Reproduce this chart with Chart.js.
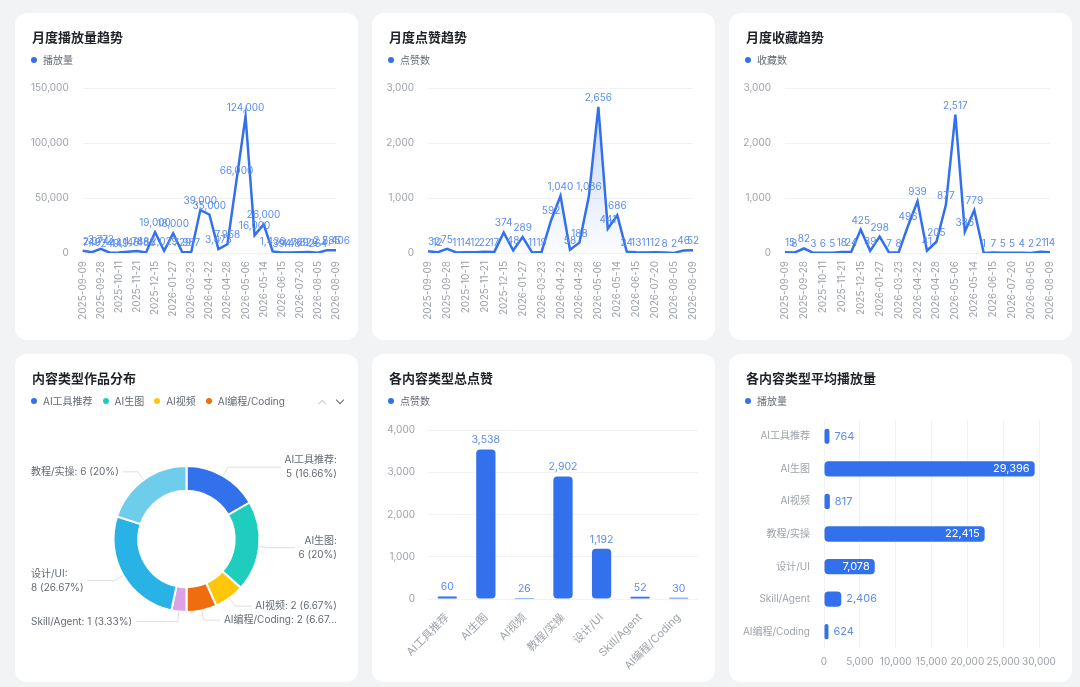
<!DOCTYPE html>
<html>
<head>
<meta charset="utf-8">
<script src="https://cdn.jsdelivr.net/npm/chart.js@4.4.1/dist/chart.umd.min.js"></script>
<style>
  html, body { margin: 0; padding: 0; width: 1080px; height: 687px; overflow: hidden; background: #f2f3f5; }
  body { font-family: Inter, "Noto Sans CJK SC", sans-serif; }
  .card { position: absolute; background: #fff; border-radius: 12px; width: 343px; }
  .card canvas { position: absolute; left: 0; top: 0; }
  .title { position: absolute; left: 17px; top: 16px; font-size: 13px; line-height: 16px; font-weight: 600; color: #1f2329; white-space: nowrap; }
  .legend { position: absolute; left: 16px; top: 41px; font-size: 10px; line-height: 12px; color: #646a73; white-space: nowrap; display: flex; }
  .lg-item { display: inline-flex; align-items: center; margin-right: 10px; }
  .dot { width: 6px; height: 6px; border-radius: 50%; margin-right: 6px; display: inline-block; }
  .chev { position: absolute; width: 5px; height: 5px; transform: rotate(45deg); }
  .chev.up { left: 304px; top: 47px; border-left: 1.2px solid #c9cdd4; border-top: 1.2px solid #c9cdd4; }
  .chev.down { left: 322px; top: 43px; border-right: 1.2px solid #646a73; border-bottom: 1.2px solid #646a73; }
</style>
</head>
<body>

<div class="card" style="left:15px;top:13px;height:327px">
  <canvas id="playTrend" width="343" height="327"></canvas>
  <div class="title">月度播放量趋势</div>
  <div class="legend"><span class="lg-item"><span class="dot" style="background:#3370eb"></span>播放量</span></div>
</div>
<div class="card" style="left:372px;top:13px;height:327px">
  <canvas id="likeTrend" width="343" height="327"></canvas>
  <div class="title">月度点赞趋势</div>
  <div class="legend"><span class="lg-item"><span class="dot" style="background:#3370eb"></span>点赞数</span></div>
</div>
<div class="card" style="left:729px;top:13px;height:327px">
  <canvas id="favTrend" width="343" height="327"></canvas>
  <div class="title">月度收藏趋势</div>
  <div class="legend"><span class="lg-item"><span class="dot" style="background:#3370eb"></span>收藏数</span></div>
</div>
<div class="card" style="left:15px;top:354px;height:328px">
  <canvas id="typeShare" width="343" height="328"></canvas>
  <div class="title">内容类型作品分布</div>
  <div class="legend" id="shareLegend"></div>
  <div class="chev up"></div><div class="chev down"></div>
</div>
<div class="card" style="left:372px;top:354px;height:328px">
  <canvas id="typeLikes" width="343" height="328"></canvas>
  <div class="title">各内容类型总点赞</div>
  <div class="legend"><span class="lg-item"><span class="dot" style="background:#3370eb"></span>点赞数</span></div>
</div>
<div class="card" style="left:729px;top:354px;height:328px">
  <canvas id="typePlays" width="343" height="328"></canvas>
  <div class="title">各内容类型平均播放量</div>
  <div class="legend"><span class="lg-item"><span class="dot" style="background:#3370eb"></span>播放量</span></div>
</div>

<script>
// ---- data ----
const trendDates = ['2025-09-09','2025-09-18','2025-09-28','2025-10-05','2025-10-11','2025-11-02','2025-11-21',
  '2025-12-03','2025-12-15','2026-01-08','2026-01-27','2026-02-20','2026-03-23','2026-04-10','2026-04-22',
  '2026-04-25','2026-04-28','2026-05-02','2026-05-06','2026-05-10','2026-05-14','2026-06-01','2026-06-15',
  '2026-07-02','2026-07-20','2026-07-28','2026-08-05','2026-08-07','2026-08-09'];
const monthlyPlays = [2074, 749, 3773, 249, 449, 1148, 1788, 488, 19000, 2029, 18000, 729, 987, 39000, 35000,
  3475, 7958, 66000, 124000, 16000, 26000, 1436, 394, 448, 769, 826, 264, 2585, 2406];
const monthlyLikes = [32, 12, 75, 11, 14, 12, 22, 17, 374, 48, 289, 11, 19, 592, 1040,
  58, 188, 1036, 2656, 441, 686, 24, 13, 11, 12, 8, 2, 46, 52];
const monthlyFavs = [15, 8, 82, 3, 6, 5, 18, 24, 425, 39, 298, 7, 8, 496, 939,
  41, 205, 877, 2517, 386, 779, 1, 7, 5, 5, 4, 2, 21, 14];

const shareNames = ['AI工具推荐', 'AI生图', 'AI视频', 'AI编程/Coding', 'Skill/Agent', '设计/UI', '教程/实操'];
const shareCounts = [5, 6, 2, 2, 1, 8, 6];
const sharePct = ['16.66', '20', '6.67', '6.67', '3.33', '26.67', '20'];
const shareColors = ['#3370eb', '#1fcdbf', '#ffc60a', '#ef6c0f', '#dba2e6', '#28b2e6', '#6fcdec'];

const typeNames = ['AI工具推荐', 'AI生图', 'AI视频', '教程/实操', '设计/UI', 'Skill/Agent', 'AI编程/Coding'];
const typeLikes = [60, 3538, 26, 2902, 1192, 52, 30];
const typeAvgPlays = [764, 29396, 817, 22415, 7078, 2406, 624];

// ---- common ----
const FONT = "Inter, 'Noto Sans CJK SC', sans-serif";
const BLUE = '#3370eb';
const LABEL_BLUE = '#5a8cf0';
const AXIS = '#9ea3ab';
const GRID = '#f1f2f4';
Chart.defaults.font.family = FONT;
Chart.defaults.font.size = 10;
Chart.defaults.color = AXIS;
Chart.defaults.animation = false;

const fmt = v => v.toLocaleString('en-US');

// value labels drawn on top of points / bars
const valueLabels = {
  id: 'valueLabels',
  afterDatasetsDraw(chart, args, opts) {
    if (!opts.mode) return;
    const { ctx, chartArea } = chart;
    const meta = chart.getDatasetMeta(0);
    const values = chart.data.datasets[0].data;
    ctx.save();
    ctx.font = (opts.size || 10) + 'px ' + FONT;
    meta.data.forEach((el, i) => {
      const txt = fmt(values[i]);
      const w = ctx.measureText(txt).width;
      if (opts.mode === 'hbar') {
        ctx.textBaseline = 'middle';
        if (el.x - el.base > w + 14) {
          ctx.fillStyle = '#fff'; ctx.textAlign = 'right';
          ctx.fillText(txt, el.x - 5, el.y);
        } else {
          ctx.fillStyle = LABEL_BLUE; ctx.textAlign = 'left';
          ctx.fillText(txt, el.x + 5, el.y);
        }
      } else {
        ctx.fillStyle = LABEL_BLUE; ctx.textAlign = 'center'; ctx.textBaseline = 'bottom';
        const x = Math.max(el.x, chartArea.left + w / 2);
        ctx.fillText(txt, x, el.y - 4);
      }
    });
    ctx.restore();
  }
};

function fitText(ctx, t, maxW) {
  if (ctx.measureText(t).width <= maxW) return t;
  while (t.length > 1 && ctx.measureText(t + '...').width > maxW) t = t.slice(0, -1);
  return t + '...';
}

// outside labels with leader lines for the doughnut
const donutLabels = {
  id: 'donutLabels',
  afterDatasetsDraw(chart, args, opts) {
    const { ctx } = chart;
    const meta = chart.getDatasetMeta(0);
    const ds = chart.data.datasets[0];
    ctx.save();
    ctx.font = '10px ' + FONT;
    ctx.textBaseline = 'middle';
    meta.data.forEach((arc, i) => {
      const p = arc.getProps(['x', 'y', 'startAngle', 'endAngle', 'outerRadius'], true);
      const mid = (p.startAngle + p.endAngle) / 2;
      const c = Math.cos(mid), s = Math.sin(mid);
      const x1 = p.x + c * p.outerRadius, y1 = p.y + s * p.outerRadius;
      const x2 = p.x + c * (p.outerRadius + 10), y2 = p.y + s * (p.outerRadius + 10);
      const right = c >= 0;
      const name = chart.data.labels[i];
      const tail = ds.data[i] + ' (' + opts.pct[i] + '%)';
      let lines = opts.wrap[i] ? [name + ':', tail] : [name + ': ' + tail];
      const edge = right ? opts.right : opts.left;
      const maxW = right ? edge - x2 - 16 : x2 - edge - 4;
      lines = lines.map(t => fitText(ctx, t, maxW));
      const tw = Math.max(...lines.map(t => ctx.measureText(t).width));
      const x3 = right ? edge - tw - 4 : edge + tw + 4;
      ctx.strokeStyle = '#dcdee2'; ctx.lineWidth = 1;
      ctx.beginPath(); ctx.moveTo(x1, y1); ctx.lineTo(x2, y2); ctx.lineTo(x3, y2); ctx.stroke();
      ctx.fillStyle = '#646a73';
      ctx.textAlign = right ? 'right' : 'left';
      lines.forEach((t, k) => ctx.fillText(t, edge, y2 + (k - (lines.length - 1) / 2) * 14));
    });
    ctx.restore();
  }
};

function trendChart(id, label, values, max, step, axisW, filled) {
  return new Chart(document.getElementById(id), {
    type: 'line',
    data: {
      labels: trendDates,
      datasets: [{
        label: label,
        data: values,
        borderColor: BLUE,
        borderWidth: 2.5,
        pointRadius: 0,
        tension: 0,
        fill: filled ? 'origin' : false,
        backgroundColor: filled ? (c) => {
          const area = c.chart.chartArea;
          if (!area) return 'rgba(51,112,235,0.1)';
          const g = c.chart.ctx.createLinearGradient(0, area.top, 0, area.bottom);
          g.addColorStop(0, 'rgba(51,112,235,0.30)');
          g.addColorStop(1, 'rgba(51,112,235,0.02)');
          return g;
        } : BLUE
      }]
    },
    plugins: [valueLabels],
    options: {
      responsive: false,
      locale: 'en-US',
      layout: { padding: { top: 75, left: 4, right: 22, bottom: 17 } },
      plugins: { legend: { display: false }, tooltip: { enabled: false }, valueLabels: { mode: 'line' } },
      scales: {
        x: {
          grid: { display: false, drawTicks: false },
          border: { display: false },
          ticks: {
            autoSkip: false, minRotation: 90, maxRotation: 90, padding: 8,
            callback(v, i) { return i % 2 === 0 ? this.getLabelForValue(v) : ''; }
          },
          afterFit(s) { s.height = 70; }
        },
        y: {
          min: 0, max: max,
          grid: { color: GRID, drawTicks: false },
          border: { display: false },
          ticks: { stepSize: step, padding: 14 },
          afterFit(s) { s.width = axisW; }
        }
      }
    }
  });
}

trendChart('playTrend', '播放量', monthlyPlays, 150000, 50000, 63.7, false);
trendChart('likeTrend', '点赞数', monthlyLikes, 3000, 1000, 52, true);
trendChart('favTrend', '收藏数', monthlyFavs, 3000, 1000, 52, false);

// doughnut
document.getElementById('shareLegend').innerHTML = shareNames.slice(0, 4).map((n, i) =>
  '<span class="lg-item"><span class="dot" style="background:' + shareColors[i] + '"></span>' + n + '</span>').join('');

new Chart(document.getElementById('typeShare'), {
  type: 'doughnut',
  data: {
    labels: shareNames,
    datasets: [{ data: shareCounts, backgroundColor: shareColors, borderColor: '#fff', borderWidth: 2 }]
  },
  plugins: [donutLabels],
  options: {
    responsive: false,
    cutout: '66%',
    layout: { padding: { top: 111, bottom: 69, left: 0, right: 0 } },
    plugins: {
      legend: { display: false }, tooltip: { enabled: false },
      donutLabels: { pct: sharePct, wrap: [true, true, false, false, false, true, false], left: 16, right: 322 }
    }
  }
});

// total likes by type
new Chart(document.getElementById('typeLikes'), {
  type: 'bar',
  data: {
    labels: typeNames,
    datasets: [{ label: '点赞数', data: typeLikes, backgroundColor: BLUE, borderRadius: 4, borderSkipped: false,
      barPercentage: 0.5, categoryPercentage: 1 }]
  },
  plugins: [valueLabels],
  options: {
    responsive: false,
    locale: 'en-US',
    layout: { padding: { top: 76, left: 4, right: 17, bottom: 4 } },
    plugins: { legend: { display: false }, tooltip: { enabled: false }, valueLabels: { mode: 'bar', size: 10.5 } },
    scales: {
      x: {
        grid: { display: false, drawTicks: false },
        border: { display: false },
        ticks: { autoSkip: false, minRotation: 45, maxRotation: 45, padding: 12, font: { size: 11 } },
        afterFit(s) { s.height = 79; }
      },
      y: {
        min: 0, max: 4000,
        grid: { color: GRID, drawTicks: false },
        border: { display: false },
        ticks: { stepSize: 1000, padding: 13 },
        afterFit(s) { s.width = 52; }
      }
    }
  }
});

// average plays by type
new Chart(document.getElementById('typePlays'), {
  type: 'bar',
  data: {
    labels: typeNames,
    datasets: [{ label: '播放量', data: typeAvgPlays, backgroundColor: BLUE, borderRadius: 4, borderSkipped: false,
      barPercentage: 0.47, categoryPercentage: 1 }]
  },
  plugins: [valueLabels],
  options: {
    indexAxis: 'y',
    responsive: false,
    locale: 'en-US',
    layout: { padding: { top: 66, left: 4, right: 33, bottom: 10 } },
    plugins: { legend: { display: false }, tooltip: { enabled: false }, valueLabels: { mode: 'hbar', size: 11 } },
    scales: {
      x: {
        min: 0, max: 30000,
        grid: { color: GRID, drawTicks: false },
        border: { display: false },
        ticks: { stepSize: 5000, padding: 8, autoSkip: false, minRotation: 0, maxRotation: 0 },
        afterFit(s) { s.height = 24; }
      },
      y: {
        grid: { display: false, drawTicks: false },
        border: { display: false },
        ticks: { padding: 14 },
        afterFit(s) { s.width = 91; }
      }
    }
  }
});
</script>
</body>
</html>
